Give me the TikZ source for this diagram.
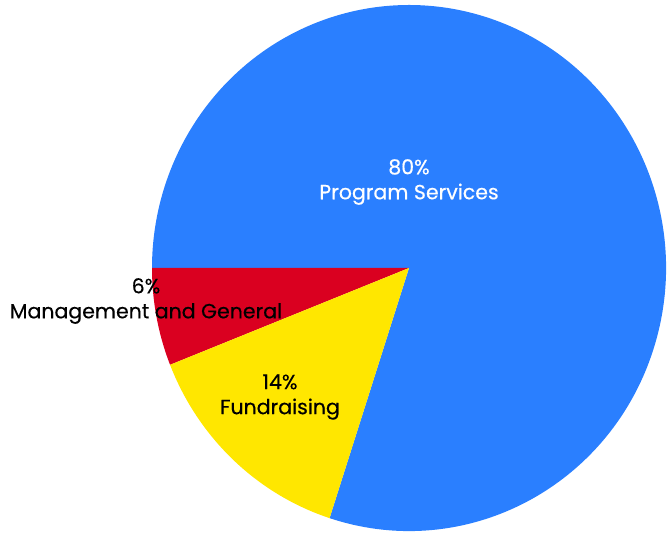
\documentclass[tikz,border=0pt]{standalone}
\usepackage{fontspec}
\setsansfont[FakeBold=0.4]{Poppins}
\usetikzlibrary{positioning}
\definecolor{progblue}{HTML}{2A7FFF}
\definecolor{mgmtred}{HTML}{DA0020}
\definecolor{fundyellow}{HTML}{FFE700}
\begin{document}
\begin{tikzpicture}[x=1pt,y=1pt,
  every node/.style={align=center,font=\sffamily\fontsize{20.5}{25}\selectfont},
  slice/.style={draw=none},
  light/.style={text=white},
  dark/.style={text=black}]
    \useasboundingbox (0,0) rectangle (669,535);
    \coordinate (c) at (409,267);

    % slices: start angle / end angle / colour
    \foreach \from/\to/\col in {252/540/progblue,180/201.6/mgmtred,201.6/252/fundyellow}
        \fill[slice,\col] (c) -- ++(\from:257 and 263) arc[start angle=\from,end angle=\to,x radius=257,y radius=263] -- cycle;

    \node[light](prog) at (409,353){80\%\\Program Services};
    \node[dark](mgmt) at (146,234){6\%\\Management and General};
    \node[dark](fund) at (280,138){14\%\\Fundraising};
\end{tikzpicture}
\end{document}
